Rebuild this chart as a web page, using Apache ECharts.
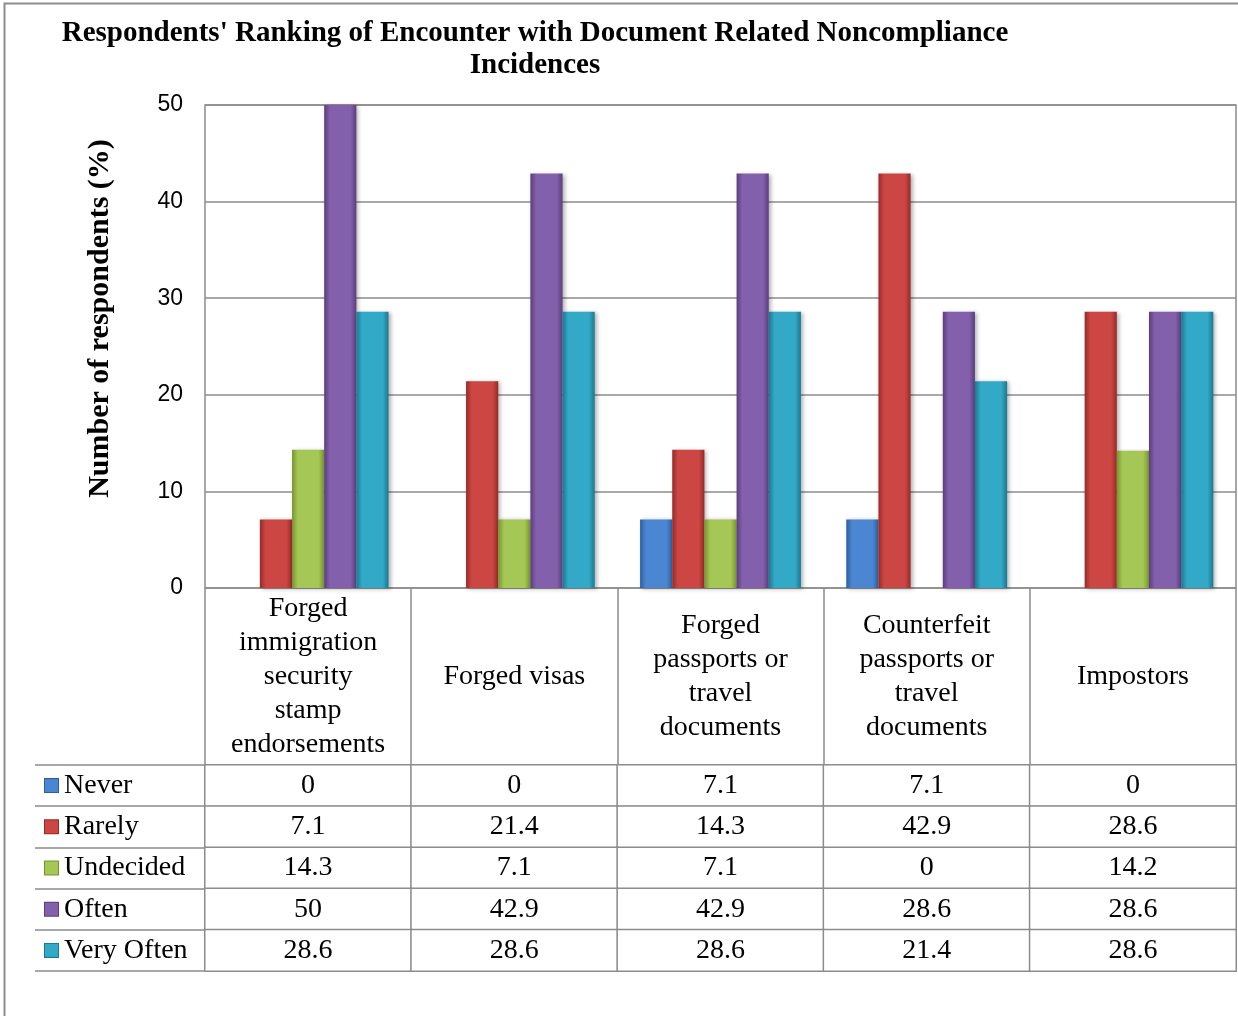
<!DOCTYPE html>
<html>
<head>
<meta charset="utf-8">
<title>Document related noncompliance</title>
<script src="https://cdn.jsdelivr.net/npm/echarts@6/dist/echarts.min.js"></script>
<style>
	html, body { margin: 0; padding: 0; background: #fff; }
	#chart { width: 1238px; height: 1016px; }
</style>
</head>
<body>
<div id="chart"></div>
<script>
	// categories (x axis)
	var categories = [
		'Forged\nimmigration\nsecurity\nstamp\nendorsements',
		'Forged visas',
		'Forged\npassports or\ntravel\ndocuments',
		'Counterfeit\npassports or\ntravel\ndocuments',
		'Impostors'
	];

	// series names
	var seriesNames = ['Never', 'Rarely', 'Undecided', 'Often', 'Very Often'];

	// values, %
	var never = [0, 0, 7.1, 7.1, 0];
	var rarely = [7.1, 21.4, 14.3, 42.9, 28.6];
	var undecided = [14.3, 7.1, 7.1, 0, 14.2];
	var often = [50, 42.9, 42.9, 28.6, 28.6];
	var veryOften = [28.6, 28.6, 28.6, 21.4, 28.6];

	var seriesValues = [never, rarely, undecided, often, veryOften];

	// y axis ticks
	var yMin = 0, yMax = 50, yStep = 10;

	// colours: [edge, middle]
	var colors = [
		['#2d5e9c', '#4b86d2'],
		['#962a28', '#cc4744'],
		['#78942f', '#a5c755'],
		['#5b3d7e', '#8360ab'],
		['#1c7890', '#32a9c6']
	];

	var serif = '"Liberation Serif", "DejaVu Serif", serif';
	var sans = '"Liberation Sans", Arial, sans-serif';
	var lineColor = '#8c8c8c';
	var tableFont = 28;

	function grad(c) {
		return {
			type: 'linear', x: 0, y: 0, x2: 1, y2: 0,
			colorStops: [
				{ offset: 0, color: c[0] },
				{ offset: 0.18, color: c[1] },
				{ offset: 0.82, color: c[1] },
				{ offset: 1, color: c[0] }
			]
		};
	}

	// bar series
	var series = seriesNames.map(function (name, i) {
		return {
			name: name,
			type: 'bar',
			xAxisIndex: 0,
			yAxisIndex: 0,
			data: seriesValues[i],
			barGap: '0%',
			barCategoryGap: '22%',
			itemStyle: {
				color: grad(colors[i]),
				shadowColor: 'rgba(0,0,0,0.3)',
				shadowBlur: 4,
				shadowOffsetX: 2,
				shadowOffsetY: 1
			},
			z: 3
		};
	});

	// data table cells
	var cells = [];
	seriesValues.forEach(function (vals, r) {
		vals.forEach(function (v, c) {
			cells.push([c, r, v]);
		});
	});

	series.push({
		type: 'heatmap',
		xAxisIndex: 1,
		yAxisIndex: 1,
		data: cells,
		itemStyle: {
			color: '#fff',
			borderColor: lineColor,
			borderWidth: 1.5
		},
		label: {
			show: true,
			color: '#000',
			fontFamily: serif,
			fontSize: tableFont,
			formatter: function (p) { return String(p.value[2]); }
		},
		emphasis: { disabled: true }
	});

	// legend keys inside the table rows
	var rich = { t: { color: '#000', fontFamily: serif, fontSize: tableFont, padding: [0, 0, 0, 6] } };
	seriesNames.forEach(function (name, i) {
		rich['k' + i] = {
			width: 13, height: 13,
			backgroundColor: colors[i][1],
			borderColor: colors[i][0],
			borderWidth: 1
		};
	});

	var option = {
		animation: false,
		backgroundColor: '#fff',
		//title
		title: {
			text: "Respondents' Ranking of Encounter with Document Related Noncompliance\nIncidences",
			left: 530,
			top: 13,
			textAlign: 'center',
			textStyle: {
				fontFamily: serif,
				fontWeight: 'bold',
				fontSize: 29,
				lineHeight: 32,
				color: '#000'
			}
		},
		graphic: [{
			type: 'rect',
			left: 2, top: 1,
			shape: { width: 1300, height: 1100 },
			style: { fill: null, stroke: lineColor, lineWidth: 2 },
			z: -1
		}],
		grid: [
			{
				left: 205, right: 2, top: 105, bottom: 428,
				show: true,
				borderColor: lineColor,
				borderWidth: 1.5
			},
			{
				left: 205, right: 2, top: 765, height: 206
			}
		],
		xAxis: [
			{
				type: 'category',
				gridIndex: 0,
				data: categories,
				axisLine: { show: false },
				axisTick: {
					show: true,
					interval: 0,
					length: 177,
					lineStyle: { color: lineColor, width: 1.5 }
				},
				axisLabel: {
					interval: 0,
					margin: 89,
					verticalAlign: 'middle',
					color: '#000',
					fontFamily: serif,
					fontSize: tableFont,
					lineHeight: 34
				}
			},
			{
				type: 'category',
				gridIndex: 1,
				data: categories,
				axisLine: { show: false },
				axisTick: { show: false },
				axisLabel: { show: false },
				splitLine: { show: false }
			}
		],
		yAxis: [
			{
				type: 'value',
				gridIndex: 0,
				min: yMin,
				max: yMax,
				interval: yStep,
				name: 'Number of respondents (%)',
				nameLocation: 'middle',
				nameGap: 90,
				nameTextStyle: {
					fontFamily: serif,
					fontWeight: 'bold',
					fontSize: 30,
					color: '#000',
					padding: [0, 0, 0, 56]
				},
				axisLine: { show: false },
				axisTick: { show: false },
				axisLabel: {
					margin: 22,
					color: '#000',
					fontFamily: sans,
					fontSize: 23
				},
				splitLine: { lineStyle: { color: lineColor, width: 1.5 } }
			},
			{
				type: 'category',
				gridIndex: 1,
				inverse: true,
				data: seriesNames,
				axisLine: { show: true, lineStyle: { color: lineColor, width: 1.5 } },
				axisTick: {
					show: true,
					interval: 0,
					length: 170,
					lineStyle: { color: lineColor, width: 1.5 }
				},
				axisLabel: {
					interval: 0,
					margin: 160,
					align: 'left',
					formatter: function (v, i) { return '{k' + i + '|}{t|' + v + '}'; },
					rich: rich
				},
				splitLine: { show: false }
			},
			{
				// left edge of the key column
				type: 'category',
				gridIndex: 1,
				inverse: true,
				data: seriesNames,
				offset: 170,
				axisLine: { show: true, lineStyle: { color: lineColor, width: 1.5 } },
				axisTick: { show: false },
				axisLabel: { show: false },
				splitLine: { show: false }
			}
		],
		series: series
	};

	var chart = echarts.init(document.getElementById('chart'));
	chart.setOption(option);
</script>
</body>
</html>
